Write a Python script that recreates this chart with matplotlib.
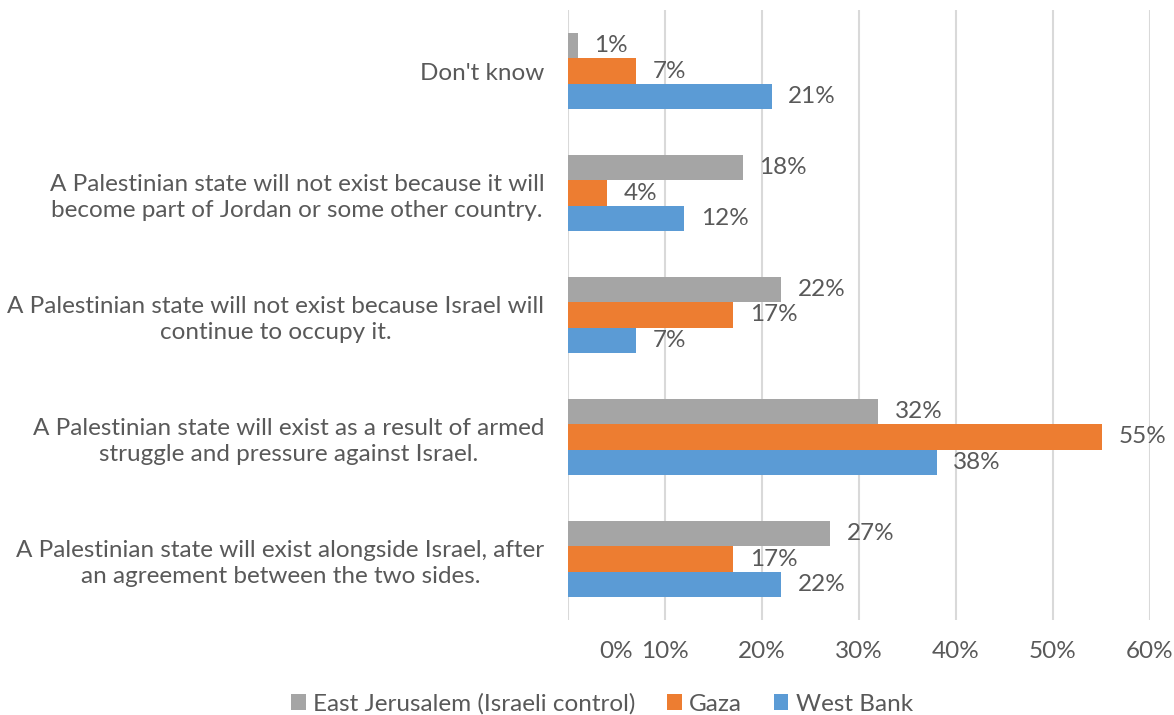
import numpy as np
import matplotlib.pyplot as plt

plt.rcParams['font.family'] = ['Lato', 'DejaVu Sans']

categories = ["Don't know",
              "A Palestinian state will not exist because it will\nbecome part of Jordan or some other country.",
              "A Palestinian state will not exist because Israel will\ncontinue to occupy it.",
              "A Palestinian state will exist as a result of armed\nstruggle and pressure against Israel.",
              "A Palestinian state will exist alongside Israel, after\nan agreement between the two sides."]
east_jerusalem = [1, 18, 22, 32, 27]
gaza = [7, 4, 17, 55, 17]
west_bank = [21, 12, 7, 38, 22]
series_names = ['East Jerusalem (Israeli control)', 'Gaza', 'West Bank']
grid_ticks = [0, 10, 20, 30, 40, 50, 60]
label_ticks = [5, 10, 20, 30, 40, 50, 60]
tick_labels = ['0%', '10%', '20%', '30%', '40%', '50%', '60%']

text_col = '#595959'
colors = ['#A5A5A5', '#ED7D31', '#5B9BD5']
fs = 17.5

fig = plt.figure(figsize=(11.74, 7.15), dpi=100)
ax = fig.add_axes([568/1174, 1 - 620/715, (1150-568)/1174, 610/715])

# top of the chart is the first category
y = np.arange(len(categories))[::-1]
h = 0.205
offsets = [h, 0, -h]
for vals, off, c, name in zip([east_jerusalem, gaza, west_bank], offsets, colors, series_names):
    bars = ax.barh(y + off, vals, height=h, color=c, label=name, zorder=3)
    ax.bar_label(bars, labels=[f'{v}%' for v in vals], padding=12,
                 fontsize=fs, color=text_col)

ax.set_xlim(0, 60)
ax.set_ylim(-0.5, 4.5)
ax.set_yticks(y)
ax.set_yticklabels(categories, fontsize=fs, color=text_col, multialignment='center',
                   linespacing=1.3)
ax.tick_params(axis='y', length=0, pad=17)

# Excel puts the 0% label half way to 10%
ax.set_xticks(label_ticks)
ax.set_xticklabels(tick_labels, fontsize=fs, color=text_col)
ax.tick_params(axis='x', length=0, pad=15)
for g in grid_ticks:
    ax.axvline(g, color='#D9D9D9', linewidth=1.5, zorder=0)

for s in ax.spines.values():
    s.set_visible(False)

fig.legend(loc='lower center', bbox_to_anchor=(602/1174, -0.03), ncol=3, frameon=False,
           fontsize=fs, labelcolor=text_col, handlelength=0.6, handleheight=0.6,
           handletextpad=0.3, columnspacing=1.3)

fig.savefig('out.png', dpi=100)
